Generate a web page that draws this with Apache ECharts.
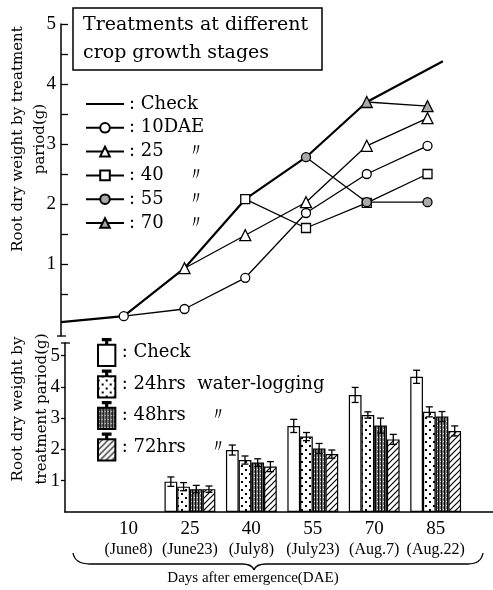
<!DOCTYPE html>
<html>
<head>
<meta charset="utf-8">
<script src="https://cdn.jsdelivr.net/npm/echarts@6/dist/echarts.min.js"></script>
<style>
  html, body { margin: 0; padding: 0; background: #fff; }
  #chart { width: 493px; height: 590px; }
</style>
</head>
<body>
<div id="chart"></div>
<script>
'use strict'
// root dry weight, treatments at different growth stages (top) and water-logging (bottom)

const days = [10, 25, 40, 55, 70, 85];
const dateLabels = ['June8', 'June23', 'July8', 'July23', 'Aug.7', 'Aug.22'];

// top panel: check line read as [DAE, g]
const checkLine = [[-5.5, 0.03], [10, 0.13], [25, 0.93], [40, 2.08], [55, 2.78], [70, 3.7], [88.8, 4.38]];
const dae10 = [0.13, 0.25, 0.77, 1.85, 2.5, 2.97];
const dae25 = [0.93, 1.48, 2.03, 2.97, 3.43];
const dae40 = [2.08, 1.6, 2.02, 2.5];
const dae55 = [2.78, 2.03, 2.03];
const dae70 = [3.7, 3.63];

// bottom panel: bars and error bars
const barDays = [25, 40, 55, 70, 85];
const check = [0.97, 1.98, 2.75, 3.74, 4.32];
const wl24 = [0.81, 1.66, 2.41, 3.1, 3.2];
const wl48 = [0.73, 1.58, 2.03, 2.76, 3.05];
const wl72 = [0.73, 1.45, 1.85, 2.32, 2.59];
const errCheck = [0.15, 0.16, 0.21, 0.24, 0.21];
const err24 = [0.13, 0.13, 0.13, 0.1, 0.16];
const err48 = [0.12, 0.12, 0.16, 0.24, 0.16];
const err72 = [0.1, 0.16, 0.13, 0.16, 0.16];

const serif = 'Liberation Serif';
const wide = 'DejaVu Serif';
const barW = 12.7;

function pairs(vals) {
    let start = days.length - vals.length;
    return vals.map(function (v, i) { return [days[start + i], v]; });
}

function makePattern(kind) {
    let c = document.createElement('canvas');
    let ctx = c.getContext('2d');
    if (kind == 'dots') {
        c.width = 8; c.height = 8;
        ctx.fillStyle = '#fff'; ctx.fillRect(0, 0, 8, 8);
        ctx.fillStyle = '#000';
        ctx.fillRect(1, 1, 2, 2);
        ctx.fillRect(5, 5, 2, 2);
    } else if (kind == 'vert') {
        c.width = 3; c.height = 4;
        ctx.fillStyle = '#777'; ctx.fillRect(0, 0, 3, 4);
        ctx.fillStyle = '#000';
        ctx.fillRect(0, 0, 1, 4);
        ctx.fillStyle = '#fff';
        ctx.fillRect(2, 1, 1, 1);
    } else {
        c.width = 6; c.height = 6;
        ctx.fillStyle = '#fff'; ctx.fillRect(0, 0, 6, 6);
        ctx.strokeStyle = '#000'; ctx.lineWidth = 1.2;
        ctx.beginPath();
        ctx.moveTo(0, 6); ctx.lineTo(6, 0);
        ctx.moveTo(-1, 1); ctx.lineTo(1, -1);
        ctx.moveTo(5, 7); ctx.lineTo(7, 5);
        ctx.stroke();
    }
    return { image: c, repeat: 'repeat' };
}

const barIcon = 'path://M1,6H19V28H1Z M9.4,0H10.6V6H9.4Z M6,0H14V1.2H6Z';

function lineSeries(name, data, symbol, fill) {
    return {
        name: name,
        type: 'line',
        xAxisIndex: 0,
        yAxisIndex: 0,
        data: data,
        symbol: symbol,
        symbolSize: symbol == 'triangle' ? 11 : 9,
        lineStyle: { color: '#000', width: 1.3 },
        itemStyle: { color: fill, borderColor: '#000', borderWidth: 1.3 },
        z: 3
    };
}

function barSeries(name, vals, color) {
    return {
        name: name,
        type: 'bar',
        xAxisIndex: 1,
        yAxisIndex: 1,
        barWidth: barW,
        barGap: '0%',
        data: vals.map(function (v, i) { return [barDays[i], v]; }),
        itemStyle: { color: color, borderColor: '#000', borderWidth: 1.2 }
    };
}

let errData = [];
[[check, errCheck], [wl24, err24], [wl48, err48], [wl72, err72]].forEach(function (s, k) {
    s[0].forEach(function (v, i) {
        errData.push([barDays[i], v - s[1][i], v + s[1][i], k]);
    });
});

function renderErr(params, api) {
    let x = api.value(0), lo = api.value(1), hi = api.value(2), k = api.value(3);
    let off = (k - 1.5) * barW;
    let top = api.coord([x, hi]);
    let bot = api.coord([x, lo]);
    let cx = top[0] + off;
    let st = { stroke: '#000', lineWidth: 1.3 };
    return {
        type: 'group',
        children: [
            { type: 'line', shape: { x1: cx, y1: top[1], x2: cx, y2: bot[1] }, style: st },
            { type: 'line', shape: { x1: cx - 3.5, y1: top[1], x2: cx + 3.5, y2: top[1] }, style: st },
            { type: 'line', shape: { x1: cx - 3.5, y1: bot[1], x2: cx + 3.5, y2: bot[1] }, style: st }
        ]
    };
}

let braceStyle = { fill: 'none', stroke: '#000', lineWidth: 1.3 };
let axisBlack = { color: '#000', width: 1.5 };

let myChart = echarts.init(document.getElementById('chart'));
let option = {
    backgroundColor: '#fff',
    animation: false,
    title: {
        text: 'Treatments at different\ncrop growth stages',
        left: 73,
        top: 8,
        padding: [3, 14, 3, 10],
        borderColor: '#000',
        borderWidth: 1.5,
        textStyle: { fontFamily: wide, fontSize: 19, fontWeight: 'normal', color: '#000', lineHeight: 28 }
    },
    legend: [
        {
            orient: 'vertical',
            left: 80,
            top: 89,
            itemWidth: 38,
            itemHeight: 12,
            itemGap: 3.8,
            data: [
                { name: 'Check', itemStyle: { opacity: 0 } },
                '10DAE', '25 〃', '40 〃', '55 〃', '70 〃'
            ],
            formatter: function (n) { return ': ' + n.replace(' 〃', '    〃'); },
            textStyle: { fontFamily: wide, fontSize: 18, color: '#000', lineHeight: 20 }
        },
        {
            orient: 'vertical',
            left: 92,
            top: 333,
            itemWidth: 20,
            itemHeight: 27,
            itemGap: 2.5,
            icon: barIcon,
            data: ['Check ', '24hrs', '48hrs', '72hrs'],
            formatter: function (n) {
                let t = { 'Check ': 'Check', '24hrs': '24hrs  water-logging', '48hrs': '48hrs    〃', '72hrs': '72hrs    〃' };
                return ': ' + t[n];
            },
            textStyle: { fontFamily: wide, fontSize: 18, color: '#000' }
        }
    ],
    grid: [
        { left: 61, top: 24, width: 407, height: 312 },
        { left: 65, top: 343, width: 428, height: 169 }
    ],
    xAxis: [
        { gridIndex: 0, type: 'value', min: -5.5, max: 95, show: false },
        {
            gridIndex: 1,
            type: 'value',
            min: -5.5,
            max: 99,
            splitLine: { show: false },
            axisLine: { onZero: false, lineStyle: axisBlack },
            axisTick: { show: false },
            axisLabel: {
                customValues: days,
                margin: 7,
                color: '#000',
                formatter: function (v) {
                    return '{a|' + v + '}\n{b|(' + dateLabels[days.indexOf(v)] + ')}';
                },
                rich: {
                    a: { fontFamily: serif, fontSize: 19, lineHeight: 21, color: '#000' },
                    b: { fontFamily: serif, fontSize: 16, lineHeight: 19, color: '#000' }
                }
            }
        }
    ],
    yAxis: [
        {
            gridIndex: 0,
            type: 'value',
            min: -0.2,
            max: 5,
            splitLine: { show: false },
            axisLine: { show: true, onZero: false, lineStyle: axisBlack },
            axisTick: { show: true, inside: true, length: 7, customValues: [0.5, 1, 1.5, 2, 2.5, 3, 3.5, 4, 4.5, 5], lineStyle: { color: '#000', width: 1.3 } },
            axisLabel: { customValues: [1, 2, 3, 4, 5], margin: 5, fontFamily: serif, fontSize: 19, color: '#000' }
        },
        {
            gridIndex: 1,
            type: 'value',
            min: 0,
            max: 5.4,
            splitLine: { show: false },
            axisLine: { show: true, onZero: false, lineStyle: axisBlack },
            axisTick: { show: true, length: 4, customValues: [1, 2, 3, 4, 5], lineStyle: { color: '#000', width: 1.3 } },
            axisLabel: { customValues: [1, 2, 3, 4, 5], margin: 5, fontFamily: serif, fontSize: 19, color: '#000' }
        }
    ],
    graphic: [
        {
            type: 'text', x: 29, y: 139, rotation: Math.PI / 2,
            style: { text: 'Root dry weight by treatment\npariod(g)', fontFamily: wide, fontSize: 15, lineHeight: 22, fill: '#000', align: 'center', verticalAlign: 'middle' }
        },
        {
            type: 'text', x: 30, y: 409, rotation: Math.PI / 2,
            style: { text: 'Root dry weight by\ntreatment pariod(g)', fontFamily: wide, fontSize: 15, lineHeight: 24, fill: '#000', align: 'center', verticalAlign: 'middle' }
        },
        {
            type: 'text', x: 253, y: 578,
            style: { text: 'Days after emergence(DAE)', fontFamily: serif, fontSize: 15, fill: '#000', align: 'center', verticalAlign: 'middle' }
        },
        // brace under the x labels
        { type: 'bezierCurve', shape: { x1: 73, y1: 553, x2: 90, y2: 564, cpx1: 75, cpy1: 564 }, style: braceStyle },
        { type: 'line', shape: { x1: 90, y1: 564, x2: 242, y2: 564 }, style: braceStyle },
        { type: 'bezierCurve', shape: { x1: 242, y1: 564, x2: 254, y2: 570, cpx1: 252, cpy1: 564 }, style: braceStyle },
        { type: 'bezierCurve', shape: { x1: 254, y1: 570, x2: 266, y2: 564, cpx1: 256, cpy1: 564 }, style: braceStyle },
        { type: 'line', shape: { x1: 266, y1: 564, x2: 468, y2: 564 }, style: braceStyle },
        { type: 'bezierCurve', shape: { x1: 468, y1: 564, x2: 483, y2: 553, cpx1: 481, cpy1: 564 }, style: braceStyle },
        // axis break marks
        { type: 'line', shape: { x1: 57, y1: 336, x2: 66, y2: 336 }, style: { stroke: '#000', lineWidth: 1.3 } },
        { type: 'line', shape: { x1: 61, y1: 343, x2: 70, y2: 343 }, style: { stroke: '#000', lineWidth: 1.3 } }
    ],
    series: [
        {
            name: 'Check',
            type: 'line',
            xAxisIndex: 0,
            yAxisIndex: 0,
            data: checkLine,
            showSymbol: false,
            symbol: 'none',
            lineStyle: { color: '#000', width: 2.2 },
            itemStyle: { color: '#000' },
            z: 2
        },
        lineSeries('10DAE', pairs(dae10), 'circle', '#fff'),
        lineSeries('25 〃', pairs(dae25), 'triangle', '#fff'),
        lineSeries('40 〃', pairs(dae40), 'rect', '#fff'),
        lineSeries('55 〃', pairs(dae55), 'circle', '#aaa'),
        lineSeries('70 〃', pairs(dae70), 'triangle', '#aaa'),
        barSeries('Check ', check, '#fff'),
        barSeries('24hrs', wl24, makePattern('dots')),
        barSeries('48hrs', wl48, makePattern('vert')),
        barSeries('72hrs', wl72, makePattern('hatch')),
        {
            type: 'custom',
            xAxisIndex: 1,
            yAxisIndex: 1,
            data: errData,
            renderItem: renderErr,
            z: 5
        }
    ]
};
myChart.setOption(option);
</script>
</body>
</html>
